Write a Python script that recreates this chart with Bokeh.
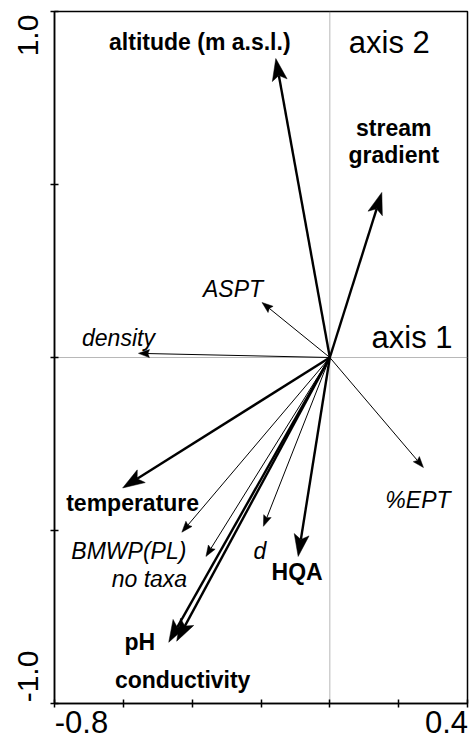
import numpy as np
from bokeh.plotting import figure
from bokeh.models import Range1d, FixedTicker, Span, ColumnDataSource, LinearAxis
from bokeh.embed import file_html
from bokeh.resources import INLINE
from bokeh.core.properties import value

# ---- data ----
names = ["altitude (m a.s.l.)", "stream\ngradient", "ASPT", "density", "%EPT",
         "temperature", "BMWP(PL)", "no taxa", "d", "HQA", "pH", "conductivity"]
axis1 = [-0.157, 0.151, -0.197, -0.556, 0.272, -0.602, -0.430, -0.360, -0.193, -0.092, -0.468, -0.445]
axis2 = [0.864, 0.477, 0.159, 0.012, -0.318, -0.377, -0.505, -0.575, -0.488, -0.575, -0.823, -0.820]
kind = ["env", "env", "bio", "bio", "bio", "env", "bio", "bio", "bio", "env", "env", "env"]
x_ticks = [-0.8, -0.6, -0.4, -0.2, 0.0, 0.2, 0.4]
y_ticks = [-1.0, -0.5, 0.0, 0.5, 1.0]
x_end_labels = ["-0.8", "0.4"]
y_end_labels = ["-1.0", "1.0"]
axis_titles = ["axis 1", "axis 2"]

# label offsets from arrow tips, screen px (x right, y down)
lab_dx = [-76, 12, -29, -20, -5.5, 10, -53, -56.5, -3.5, -1, -29, 6]
lab_dy = [-17, -51, -13, -15, 32, 15, 19, 23, 25, 16, 0, 39]

FONT = "Liberation Sans"
W, H = 472, 744
ML, MR, MT, MB = 54, 5, 11, 41
XR = (-0.8, 0.4)
YR = (-1.0, 1.0)

p = figure(width=W, height=H, x_range=Range1d(*XR), y_range=Range1d(*YR),
           output_backend="svg", toolbar_location=None,
           min_border_left=ML, min_border_right=MR, min_border_top=MT, min_border_bottom=MB)
p.grid.visible = False
p.outline_line_color = "black"
p.outline_line_width = 1.5
p.outline_line_alpha = 1.0
for ax, t in ((p.xaxis, x_ticks), (p.yaxis, y_ticks)):
    ax.ticker = FixedTicker(ticks=t)
    ax.major_label_text_font_size = "0px"
    ax.major_label_standoff = 0
    ax.axis_line_width = 1.5
    ax.major_tick_line_width = 1.5
    ax.major_tick_in = 4
    ax.major_tick_out = 4
    ax.minor_tick_line_color = None
    ax.axis_line_color = "black"
    ax.major_tick_line_color = "black"

# px per data unit
fw = W - ML - MR
fh = H - MT - MB
kx = (XR[1] - XR[0]) / fw
ky = (YR[1] - YR[0]) / fh

# end-of-axis tick labels: set inside the axis ends (shifted by half their size)
xl_pos = [XR[0] + 27 * kx, XR[1] - 21 * kx]
yl_pos = [YR[0] + 27 * ky, YR[1] - 24 * ky]
xlab_axis = LinearAxis(ticker=FixedTicker(ticks=xl_pos),
                       major_label_overrides={xl_pos[0]: x_end_labels[0], xl_pos[1]: x_end_labels[1]},
                       axis_line_color=None, major_tick_line_color=None, minor_tick_line_color=None,
                       major_tick_out=0, major_tick_in=0, major_label_standoff=3,
                       major_label_text_font=FONT, major_label_text_font_size="31px",
                       major_label_text_color="black")
p.add_layout(xlab_axis, "below")
ylab_axis = LinearAxis(ticker=FixedTicker(ticks=yl_pos),
                       major_label_overrides={yl_pos[0]: y_end_labels[0], yl_pos[1]: y_end_labels[1]},
                       axis_line_color=None, major_tick_line_color=None, minor_tick_line_color=None,
                       major_tick_out=0, major_tick_in=0, major_label_standoff=13,
                       major_label_orientation="vertical",
                       major_label_text_font=FONT, major_label_text_font_size="30px",
                       major_label_text_color="black")
p.add_layout(ylab_axis, "left")

p.add_layout(Span(location=0, dimension="height", line_color="#707070", line_width=1,
                  line_dash="1 1", level="underlay"))
p.add_layout(Span(location=0, dimension="width", line_color="#707070", line_width=1,
                  line_dash="1 1", level="underlay"))

ax1 = np.array(axis1)
ax2 = np.array(axis2)
px = ax1 / kx
py = ax2 / ky
ln = np.hypot(px, py)
ux, uy = px / ln, py / ln
nx, ny = -uy, ux

for grp, lw, L, Wd, c in (("env", 2.4, 22, 7.5, 0.78), ("bio", 1.0, 11, 4.0, 0.85)):
    idx = [i for i, k in enumerate(kind) if k == grp]
    x1 = [(px[i] - c * L * ux[i]) * kx for i in idx]
    y1 = [(py[i] - c * L * uy[i]) * ky for i in idx]
    p.segment(x0=[0] * len(idx), y0=[0] * len(idx), x1=x1, y1=y1,
              line_color="black", line_width=lw)
    xs, ys = [], []
    for i in idx:
        tx, ty = px[i], py[i]
        vx = [tx, tx - L * ux[i] + Wd * nx[i], tx - c * L * ux[i], tx - L * ux[i] - Wd * nx[i]]
        vy = [ty, ty - L * uy[i] + Wd * ny[i], ty - c * L * uy[i], ty - L * uy[i] - Wd * ny[i]]
        xs.append([v * kx for v in vx])
        ys.append([v * ky for v in vy])
    p.patches(xs=xs, ys=ys, fill_color="black", line_color="black", line_width=0.5)

    src = ColumnDataSource(dict(x=[axis1[i] for i in idx], y=[axis2[i] for i in idx],
                                text=[names[i] for i in idx],
                                dx=[lab_dx[i] for i in idx], dy=[lab_dy[i] for i in idx]))
    p.text(x="x", y="y", text="text", x_offset="dx", y_offset="dy", source=src,
           text_align="center", text_baseline="alphabetic",
           text_font=value(FONT), text_font_size="23px",
           text_font_style="bold" if grp == "env" else "italic",
           text_color="black", text_line_height=1.05)

# axis titles inside the plot
p.text(x=[XR[1], 0.0], y=[0.0, YR[1]], text=axis_titles, x_offset=[-15, 19], y_offset=[-20, 31],
       text_align=["right", "left"], text_baseline="alphabetic",
       text_font=value(FONT), text_font_size="31px", text_color="black")

open("out.html", "w").write(file_html(p, INLINE))
